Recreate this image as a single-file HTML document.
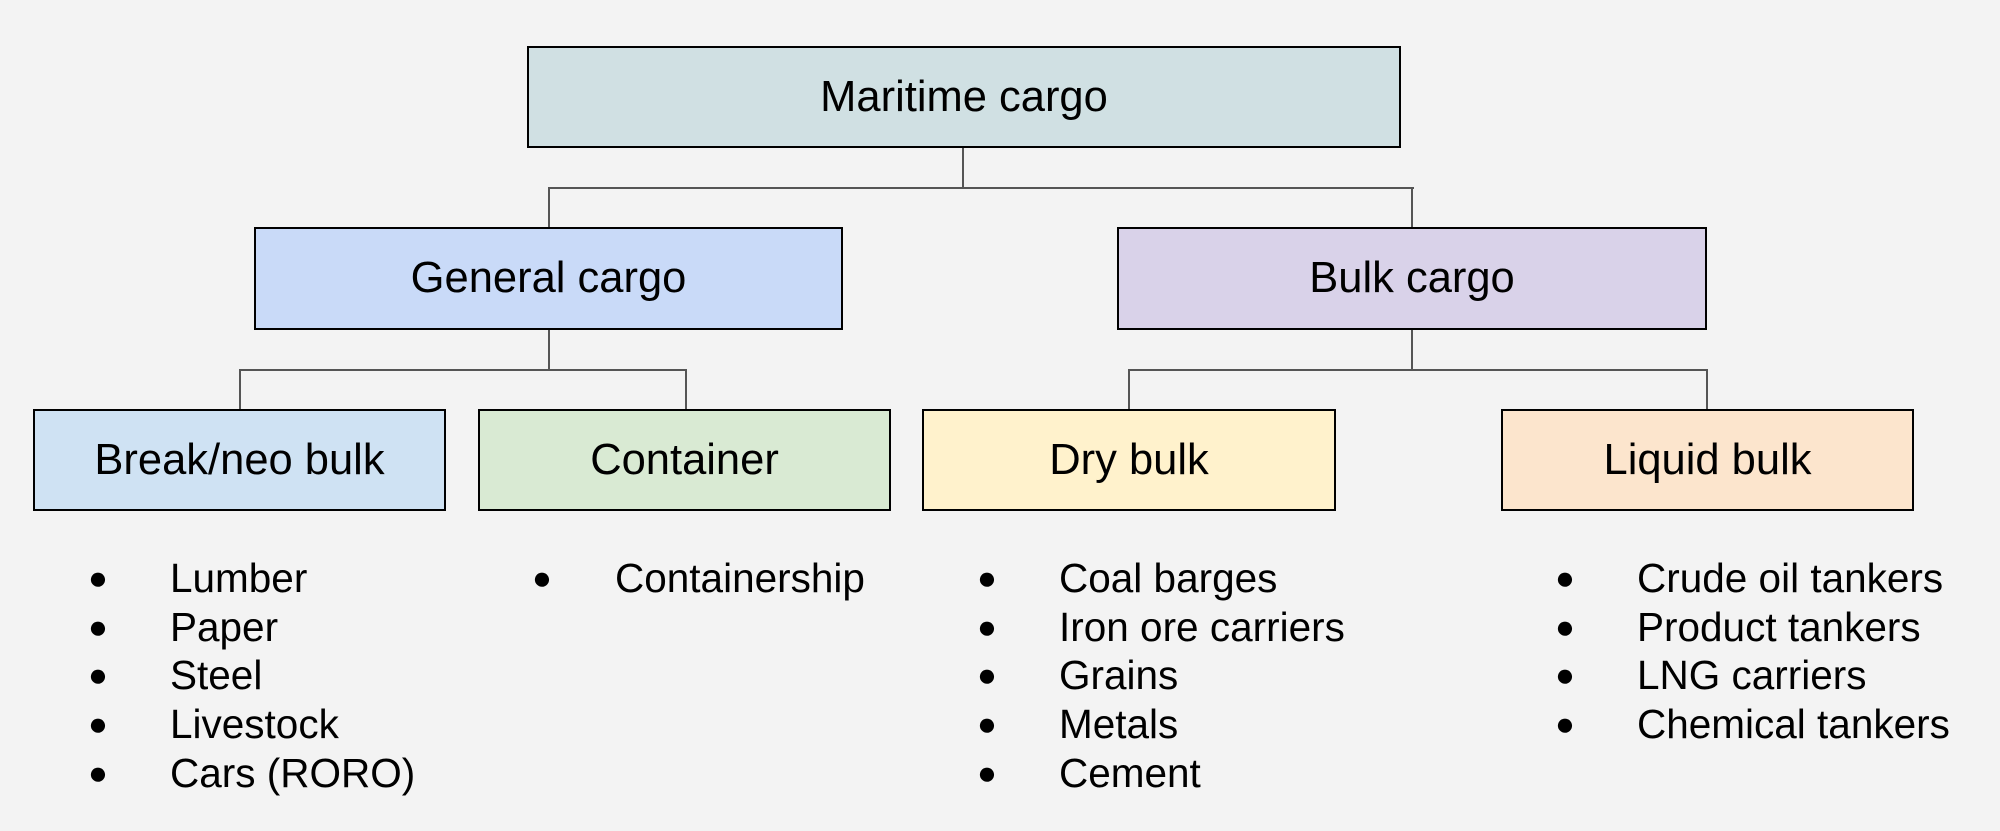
<!DOCTYPE html>
<html><head><meta charset="utf-8"><style>
body{margin:0;width:2000px;height:831px;background:#f3f3f3;position:relative;overflow:hidden;font-family:"Liberation Sans",Arial,sans-serif;color:#000}
.b{position:absolute;border:2px solid #000;box-sizing:border-box;display:flex;align-items:center;justify-content:center;font-size:43.5px}
.l{position:absolute;width:2px;background:#555}
.h{position:absolute;height:2px;background:#555}
.li{position:absolute;font-size:40.5px;line-height:48.7px;white-space:nowrap}
.bu{position:absolute;font-size:33px;line-height:48.7px}
</style></head><body>
<div class="b" style="left:527px;top:46px;width:874px;height:102px;background:#d0e0e3">Maritime cargo</div>
<div class="b" style="left:254px;top:227px;width:589px;height:103px;background:#c9daf8">General cargo</div>
<div class="b" style="left:1117px;top:227px;width:590px;height:103px;background:#d9d2e9">Bulk cargo</div>
<div class="b" style="left:33px;top:409px;width:413px;height:102px;background:#cfe2f3">Break/neo bulk</div>
<div class="b" style="left:478px;top:409px;width:413px;height:102px;background:#d9ead3">Container</div>
<div class="b" style="left:922px;top:409px;width:414px;height:102px;background:#fff2cc">Dry bulk</div>
<div class="b" style="left:1501px;top:409px;width:413px;height:102px;background:#fce5cd">Liquid bulk</div>

<div class="l" style="left:962px;top:148px;height:40px"></div>
<div class="h" style="left:548px;top:187px;width:866px"></div>
<div class="l" style="left:548px;top:187px;height:40px"></div>
<div class="l" style="left:1411px;top:187px;height:40px"></div>

<div class="l" style="left:548px;top:330px;height:40px"></div>
<div class="h" style="left:239px;top:369px;width:448px"></div>
<div class="l" style="left:239px;top:369px;height:40px"></div>
<div class="l" style="left:685px;top:369px;height:40px"></div>

<div class="l" style="left:1411px;top:330px;height:40px"></div>
<div class="h" style="left:1128px;top:369px;width:580px"></div>
<div class="l" style="left:1128px;top:369px;height:40px"></div>
<div class="l" style="left:1706px;top:369px;height:40px"></div>

<div class="bu" style="left:88px;top:554px">●<br>●<br>●<br>●<br>●</div>
<div class="li" style="left:170px;top:554px">Lumber<br>Paper<br>Steel<br>Livestock<br>Cars (RORO)</div>
<div class="bu" style="left:532px;top:554px">●</div>
<div class="li" style="left:615px;top:554px">Containership</div>
<div class="bu" style="left:977px;top:554px">●<br>●<br>●<br>●<br>●</div>
<div class="li" style="left:1059px;top:554px">Coal barges<br>Iron ore carriers<br>Grains<br>Metals<br>Cement</div>
<div class="bu" style="left:1555px;top:554px">●<br>●<br>●<br>●</div>
<div class="li" style="left:1637px;top:554px">Crude oil tankers<br>Product tankers<br>LNG carriers<br>Chemical tankers</div>
</body></html>
